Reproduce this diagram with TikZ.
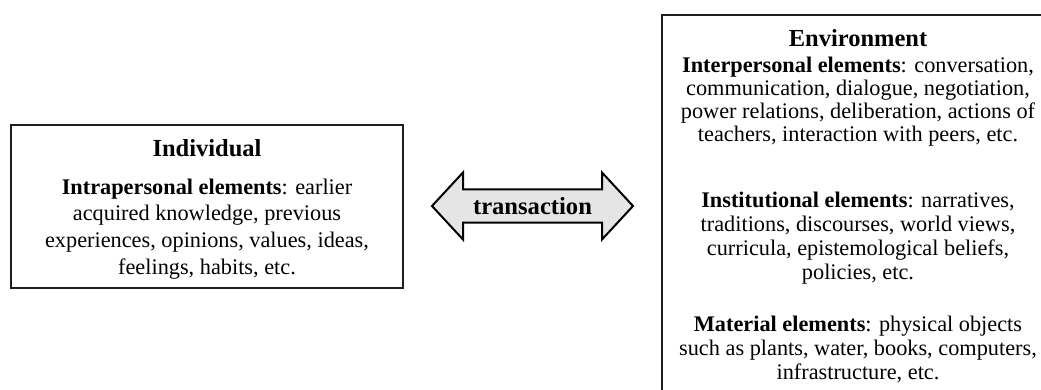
\documentclass[tikz,border=0pt]{standalone}
\usepackage{fontspec}
\setmainfont{Liberation Serif}
\begin{document}
\begin{tikzpicture}[x=1pt,y=-1pt,
  box/.style={draw=black!88, line width=2.2pt, inner sep=0pt},
  titletext/.style={font=\bfseries\fontsize{24.5}{28}\selectfont},
  bodyA/.style={align=center, inner sep=0pt, font=\fontsize{22.3}{26.7}\selectfont},
  bodyB/.style={align=center, inner sep=0pt, font=\fontsize{22.3}{23}\selectfont},
  bodyC/.style={align=center, inner sep=0pt, font=\fontsize{22.3}{24}\selectfont},
  arrowbody/.style={draw=black, line width=2pt, fill=black!10, line join=miter}]
\useasboundingbox (0,0) rectangle (1041,390);
\clip (0,0) rectangle (1041,390);

% left box: the individual
\node[box, minimum width=392pt, minimum height=163pt] (indiv) at (207,206.5) {};
\node[titletext] (indivtitle) at (207,148) {Individual};
\node[bodyA] (indivbody) at (207,229) {\textbf{Intrapersonal elements}: earlier\\
acquired knowledge, previous\\
experiences, opinions, values, ideas,\\
feelings, habits, etc.};

% right box: the environment
\node[box, minimum width=392pt, minimum height=395pt] (env) at (858,212.5) {};
\node[titletext] (envtitle) at (858,38) {Environment};
\node[bodyB] (inter) at (858,101.5) {\textbf{Interpersonal elements}: conversation,\\
communication, dialogue, negotiation,\\
power relations, deliberation, actions of\\
teachers, interaction with peers, etc.};
\node[bodyC] (inst) at (858,238.5) {\textbf{Institutional elements}: narratives,\\
traditions, discourses, world views,\\
curricula, epistemological beliefs,\\
policies, etc.};
\node[bodyC] (mat) at (858,349.5) {\textbf{Material elements}: physical objects\\
such as plants, water, books, computers,\\
infrastructure, etc.};

% double-headed transaction arrow
\node[inner sep=0pt] (trans) at (532.5,206) {};
\draw[arrowbody] (trans.center)
  ++(-100.5,0) -- ++(31,-33.5) -- ++(0,17) -- ++(139,0) -- ++(0,-17)
  -- ++(31,33.5) -- ++(-31,33.5) -- ++(0,-17) -- ++(-139,0) -- ++(0,17) -- cycle;
\node[font=\bfseries\fontsize{24.6}{28}\selectfont] (translabel) at (trans.center) {transaction};
\end{tikzpicture}
\end{document}
